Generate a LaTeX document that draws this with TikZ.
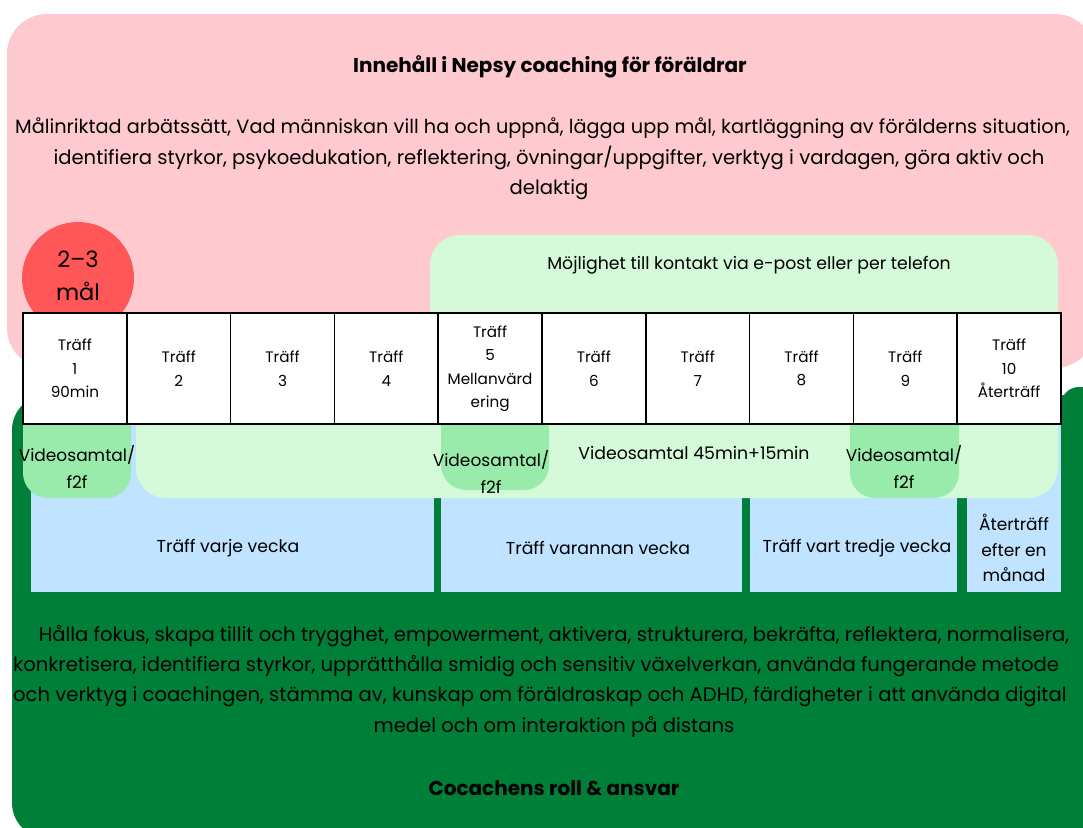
\documentclass[tikz,border=0pt]{standalone}
\usepackage{fontspec}
\setmainfont{Poppins}
\definecolor{pinkbg}{RGB}{255,202,207}
\definecolor{darkgr}{RGB}{0,127,56}
\definecolor{redc}{RGB}{255,87,87}
\definecolor{lightgr}{RGB}{213,250,218}
\definecolor{medgr}{RGB}{152,235,170}
\definecolor{bluebx}{RGB}{192,227,255}
\begin{document}
\begin{tikzpicture}[x=1pt,y=-1pt,
  shape box/.style={draw=none, inner sep=0pt, outer sep=0pt, anchor=north west},
  para/.style={align=center, inner sep=0pt, text=black, font=\fontsize{19.6}{30.3}\selectfont},
  head/.style={align=center, inner sep=0pt, text=black, font=\fontsize{20}{22}\selectfont\bfseries},
  cell/.style={draw=black, line width=1.5pt, fill=white, minimum width=103.8pt, minimum height=111pt, inner sep=0pt, align=center, font=\fontsize{15.2}{23.5}\selectfont},
  small/.style={align=center, inner sep=0pt, text=black, font=\fontsize{17.3}{26.5}\selectfont},
]
\useasboundingbox (0,0) rectangle (1083,827);
\begin{scope}
\clip (0,0) rectangle (1083,827);
% background panels
\node[shape box, fill=pinkbg, rounded corners=40pt, minimum width=1088pt, minimum height=354pt] (pinkpanel) at (7,14) {};
\node[shape box, fill=darkgr, rounded corners=35pt, minimum width=1118pt, minimum height=443pt] (greenpanel) at (12,395) {};
\node[shape box, fill=darkgr, rounded corners=18pt, minimum width=70pt, minimum height=120pt] (greentab) at (1061,387) {};

% contact box
\node[shape box, fill=lightgr, rounded corners=30pt, minimum width=628pt, minimum height=110pt] (contactbox) at (430,235) {};
\node[small] (contact) at (749,265) {Möjlighet till kontakt via e-post eller per telefon};

% red circle
\node[circle, fill=redc, minimum size=112pt, inner sep=0pt] (goal) at (78,278) {};
\node[align=center, inner sep=0pt, font=\fontsize{22.5}{33}\selectfont] (goaltxt) at (78,276) {2–3\\mål};

% blue frequency boxes
\node[shape box, fill=bluebx, minimum width=403pt, minimum height=168pt] (freq1) at (31,424) {};
\node[shape box, fill=bluebx, minimum width=301pt, minimum height=168pt] (freq2) at (441,424) {};
\node[shape box, fill=bluebx, minimum width=207pt, minimum height=168pt] (freq3) at (750,424) {};
\node[shape box, fill=bluebx, minimum width=94pt, minimum height=168pt] (freq4) at (967,424) {};

% video call bands
\node[shape box, fill=lightgr, rounded corners=30pt, minimum width=922pt, minimum height=103pt] (videoband) at (136,395) {};
\node[shape box, fill=medgr, rounded corners=25pt, minimum width=108pt, minimum height=103pt] (blob1) at (23,395) {};
\node[shape box, fill=medgr, rounded corners=25pt, minimum width=108pt, minimum height=95pt] (blob2) at (441,395) {};
\node[shape box, fill=medgr, rounded corners=25pt, minimum width=109pt, minimum height=103pt] (blob3) at (850,395) {};

% table of sessions
\foreach \i/\t in {1/{Träff\\1\\90min},2/{Träff\\2},3/{Träff\\3},4/{Träff\\4},5/{Träff\\5\\Mellanvärd\\ering},6/{Träff\\6},7/{Träff\\7},8/{Träff\\8},9/{Träff\\9},10/{Träff\\10\\Återträff}}{
  \node[cell] (t\i) at ({23+103.8*(\i-0.5)},368.5) {\t};
}

% texts
\node[head] (title) at (550,67) {Innehåll i Nepsy coaching för föräldrar};
\node[para, anchor=west, font=\fontsize{19.3}{30.3}\selectfont] (content1) at (15,128) {Målinriktad arbätssätt, Vad människan vill ha och uppnå, lägga upp mål, kartläggning av förälderns situation,};
\node[para] (content2) at (549,173) {identifiera styrkor, psykoedukation, reflektering, övningar/uppgifter, verktyg i vardagen, göra aktiv och\\delaktig};

\node[small, font=\fontsize{17}{26.5}\selectfont] (v1) at (77,467) {Videosamtal/\\f2f};
\node[small, font=\fontsize{17}{26.5}\selectfont] (v2) at (491,472) {Videosamtal/\\f2f};
\node[small, font=\fontsize{17}{26.5}\selectfont] (v3) at (904,467) {Videosamtal/\\f2f};
\node[small] (vmain) at (694,453) {Videosamtal 45min+15min};

\node[small] (f1) at (228,548) {Träff varje vecka};
\node[small] (f2) at (598,548) {Träff varannan vecka};
\node[small] (f3) at (857,548) {Träff vart tredje vecka};
\node[small, font=\fontsize{17}{25.5}\selectfont] (f4) at (1014,548) {Återträff\\efter en\\månad};

\node[para] (role1) at (554,636) {Hålla fokus, skapa tillit och trygghet, empowerment, aktivera, strukturera, bekräfta, reflektera, normalisera,};
\node[para, anchor=west] (role2) at (13,666) {konkretisera, identifiera styrkor, upprätthålla smidig och sensitiv växelverkan, använda fungerande metode};
\node[para, anchor=west] (role3) at (13,697) {och verktyg i coachingen, stämma av, kunskap om föräldraskap och ADHD, färdigheter i att använda digital};
\node[para] (role4) at (554,727) {medel och om interaktion på distans};
\node[head] (roletitle) at (554,788) {Cocachens roll \& ansvar};
\end{scope}
\end{tikzpicture}
\end{document}
